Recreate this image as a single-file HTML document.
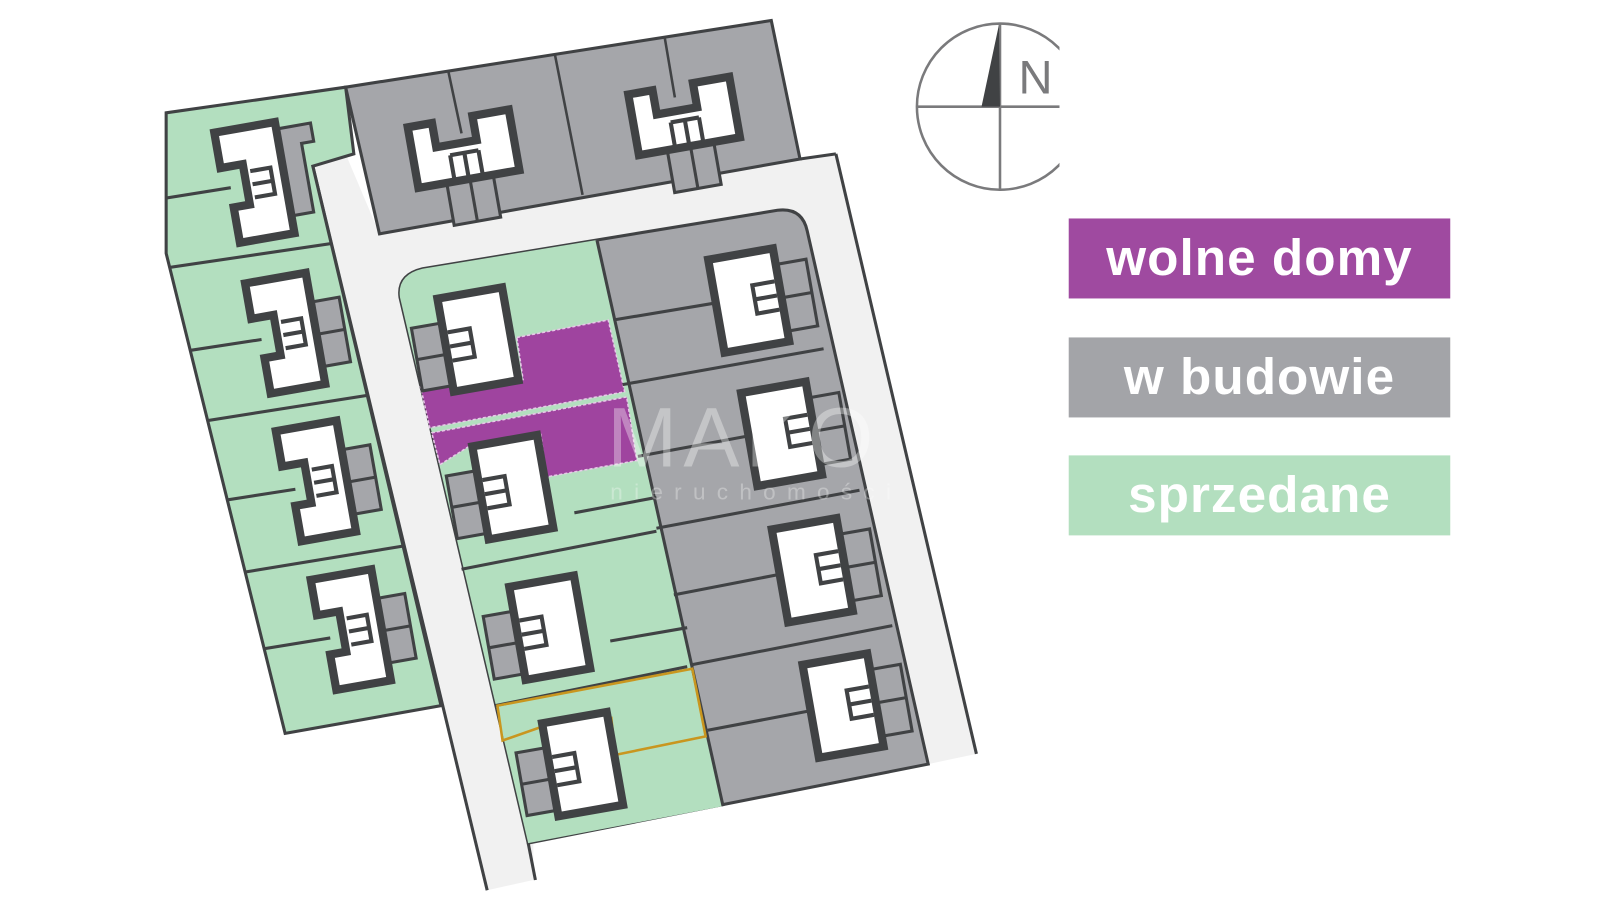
<!DOCTYPE html>
<html><head><meta charset="utf-8"><style>
html,body{margin:0;padding:0;background:#fff;}
svg{display:block}
</style></head><body>
<svg width="1600" height="900" viewBox="0 0 1560 877.5" preserveAspectRatio="none" xmlns="http://www.w3.org/2000/svg" font-family="Liberation Sans, sans-serif">
<defs>
  <g id="hI">
    <rect x="26" y="-26" width="30" height="64" fill="#a5a6aa" stroke="#404244" stroke-width="3"/>
    <line x1="26" y1="6" x2="56" y2="6" stroke="#404244" stroke-width="3"/>
    <polygon points="-32,-55 28,-55 28,55 -26,55 -26,20 -10,20 -10,-20 -32,-20" fill="#fff" stroke="#404244" stroke-width="8"/>
    <polyline points="-4,-12 16,-12 16,14 -4,14" fill="none" stroke="#404244" stroke-width="4"/>
    <line x1="-4" y1="1" x2="16" y2="1" stroke="#404244" stroke-width="4"/>
  </g>
  <g id="hI1">
    <polygon points="26,-48 62,-48 62,-30 50,-30 50,38 26,38" fill="#a5a6aa" stroke="#404244" stroke-width="3"/>
    <polygon points="-32,-55 28,-55 28,55 -26,55 -26,20 -10,20 -10,-20 -32,-20" fill="#fff" stroke="#404244" stroke-width="8"/>
    <polyline points="-4,-12 16,-12 16,14 -4,14" fill="none" stroke="#404244" stroke-width="4"/>
    <line x1="-4" y1="1" x2="16" y2="1" stroke="#404244" stroke-width="4"/>
  </g>
  <g id="hL">
    <rect x="-62" y="-22" width="32" height="62" fill="#a5a6aa" stroke="#404244" stroke-width="3"/>
    <line x1="-62" y1="9" x2="-30" y2="9" stroke="#404244" stroke-width="3"/>
    <rect x="-32" y="-46" width="64" height="92" fill="#fff" stroke="#404244" stroke-width="8"/>
    <polyline points="-28,-12 -6,-12 -6,16 -28,16" fill="none" stroke="#404244" stroke-width="4"/>
    <line x1="-28" y1="2" x2="-6" y2="2" stroke="#404244" stroke-width="4"/>
  </g>
  <g id="hR">
    <rect x="30" y="-30" width="32" height="66" fill="#a5a6aa" stroke="#404244" stroke-width="3"/>
    <line x1="30" y1="3" x2="62" y2="3" stroke="#404244" stroke-width="3"/>
    <rect x="-32" y="-46" width="64" height="92" fill="#fff" stroke="#404244" stroke-width="8"/>
    <polyline points="28,-14 6,-14 6,14 28,14" fill="none" stroke="#404244" stroke-width="4"/>
    <line x1="28" y1="0" x2="6" y2="0" stroke="#404244" stroke-width="4"/>
  </g>
  <g id="hH">
    <rect x="-22" y="28" width="46" height="44" fill="#a5a6aa" stroke="#404244" stroke-width="3"/>
    <line x1="1" y1="28" x2="1" y2="72" stroke="#404244" stroke-width="3"/>
    <polygon points="-50,-30 -26,-30 -26,-6 14,-6 14,-30 50,-30 50,30 -50,30" fill="#fff" stroke="#404244" stroke-width="8"/>
    <line x1="-14" y1="4" x2="14" y2="4" stroke="#404244" stroke-width="4"/>
    <line x1="-14" y1="4" x2="-14" y2="28" stroke="#404244" stroke-width="4"/>
    <line x1="0" y1="4" x2="0" y2="28" stroke="#404244" stroke-width="4"/>
    <line x1="14" y1="4" x2="14" y2="28" stroke="#404244" stroke-width="4"/>
  </g>
  <clipPath id="lc"><polygon points="162,110 337,85 345,150 305,162 430,688 278,715 166,263 162,247"/></clipPath>
</defs>

<!-- road base -->
<polygon points="305,162 337,150 370,228 780,155 815,150 952,735 905,745 520,822 520,858 475,868" fill="#f1f1f1"/>
<line x1="815" y1="150" x2="952" y2="735" stroke="#404244" stroke-width="3"/>
<line x1="780" y1="155" x2="815" y2="150" stroke="#404244" stroke-width="3"/>
<line x1="305" y1="162" x2="475" y2="868" stroke="#404244" stroke-width="3"/>
<line x1="515" y1="822" x2="522" y2="858" stroke="#404244" stroke-width="3"/>

<!-- left column green -->
<polygon points="162,110 337,85 345,150 305,162 430,688 278,715 166,263 162,247" fill="#b3dfbf"/>
<g clip-path="url(#lc)">
<g stroke="#404244" stroke-width="3">
  <line x1="150" y1="263" x2="360" y2="232"/>
  <line x1="190" y1="412" x2="380" y2="382"/>
  <line x1="225" y1="560" x2="420" y2="528"/>
  <line x1="150" y1="195" x2="225" y2="183"/>
  <line x1="170" y1="344" x2="255" y2="331"/>
  <line x1="205" y1="490" x2="288" y2="477"/>
  <line x1="242" y1="635" x2="322" y2="622"/>
</g>
<use href="#hI1" transform="translate(250,178) rotate(-10)"/>
<use href="#hI" transform="translate(280,325) rotate(-10)"/>
<use href="#hI" transform="translate(310,469) rotate(-10)"/>
<use href="#hI" transform="translate(344,614) rotate(-10)"/>
</g>
<polygon points="162,110 337,85 345,150 305,162 430,688 278,715 166,263 162,247" fill="none" stroke="#404244" stroke-width="3"/>

<!-- top grey block -->
<polygon points="337,85 752,20 780,155 370,228" fill="#a5a6aa" stroke="#404244" stroke-width="3"/>
<g stroke="#404244" stroke-width="2.5">
  <line x1="541" y1="53" x2="568" y2="190"/>
  <line x1="437" y1="69" x2="450" y2="130"/>
  <line x1="648" y1="36" x2="658" y2="95"/>
</g>
<use href="#hH" transform="translate(452,145) rotate(-10)"/>
<use href="#hH" transform="translate(667,113) rotate(-10)"/>

<!-- middle block -->
<path d="M390,290 Q387,268 412,262 L758,205 Q782,202 787,225 L905,745 L515,822 Z" fill="#a5a6aa" stroke="#404244" stroke-width="3"/>
<path d="M390,290 Q387,268 412,262 L582,234 L705,786 L515,822 Z" fill="#b3dfbf"/>
<line x1="582" y1="234" x2="705" y2="786" stroke="#404244" stroke-width="3"/>
<!-- purple lots -->
<polygon points="504,329 593,312 609,382 419,417 410,377 441,372 510,370" fill="#9f449f" stroke="#e8c8e8" stroke-width="1.5" stroke-dasharray="3,2"/>
<polygon points="421,422 611,387 621,449 533,465 527,422 456,436 429,453" fill="#9f449f" stroke="#e8c8e8" stroke-width="1.5" stroke-dasharray="3,2"/>
<!-- dividers -->
<g stroke="#404244" stroke-width="3">
  <line x1="640" y1="518" x2="450" y2="555"/>
  <line x1="670" y1="650" x2="483" y2="688"/>
  <line x1="607" y1="375" x2="803" y2="340"/>
  <line x1="640" y1="515" x2="838" y2="478"/>
  <line x1="675" y1="648" x2="870" y2="610"/>
  <line x1="598" y1="312" x2="700" y2="295"/>
  <line x1="622" y1="445" x2="730" y2="425"/>
  <line x1="657" y1="580" x2="760" y2="560"/>
  <line x1="690" y1="712" x2="790" y2="693"/>
  <line x1="560" y1="500" x2="640" y2="485"/>
  <line x1="595" y1="625" x2="670" y2="612"/>
</g>
<polygon points="485,688 675,652 688,718 600,736 596,700 530,708 490,722" fill="none" stroke="#c9961f" stroke-width="2.5"/>
<use href="#hL" transform="translate(466,331) rotate(-10)"/>
<use href="#hL" transform="translate(500,475) rotate(-10)"/>
<use href="#hL" transform="translate(536,612) rotate(-10)"/>
<use href="#hL" transform="translate(568,745) rotate(-10)"/>
<use href="#hR" transform="translate(730,293) rotate(-10)"/>
<use href="#hR" transform="translate(762,423) rotate(-10)"/>
<use href="#hR" transform="translate(792,556) rotate(-10)"/>
<use href="#hR" transform="translate(822,688) rotate(-10)"/>

<!-- watermark -->
<text x="592" y="455" font-size="82" fill="#fff" fill-opacity="0.35" letter-spacing="6">MAKO</text>
<text x="595" y="487" font-size="22" fill="#fff" fill-opacity="0.3" letter-spacing="11">nieruchomości</text>

<!-- compass -->
<defs><clipPath id="cc"><rect x="880" y="0" width="153" height="200"/></clipPath></defs>
<g clip-path="url(#cc)" stroke="#7a7a7c" stroke-width="2.5" fill="none">
  <circle cx="975" cy="104" r="81"/>
  <line x1="894" y1="104" x2="1040" y2="104"/>
  <line x1="975" y1="23" x2="975" y2="186"/>
</g>
<polygon points="974,24 975,104 957,104" fill="#404244"/>
<text x="993" y="91" font-size="46" fill="#7a7a7c" font-family="Liberation Sans Narrow, Liberation Sans, sans-serif">N</text>

<!-- legend -->
<rect x="1042" y="213" width="372" height="78" fill="#9f4aa0"/>
<text x="1228" y="268" font-size="50" font-weight="bold" fill="#fff" text-anchor="middle" letter-spacing="1">wolne domy</text>
<rect x="1042" y="329" width="372" height="78" fill="#a3a4a8"/>
<text x="1228" y="384" font-size="50" font-weight="bold" fill="#fff" text-anchor="middle" letter-spacing="1">w budowie</text>
<rect x="1042" y="444" width="372" height="78" fill="#b3dfbf"/>
<text x="1228" y="499" font-size="50" font-weight="bold" fill="#fff" text-anchor="middle" letter-spacing="1">sprzedane</text>
</svg>
</body></html>
